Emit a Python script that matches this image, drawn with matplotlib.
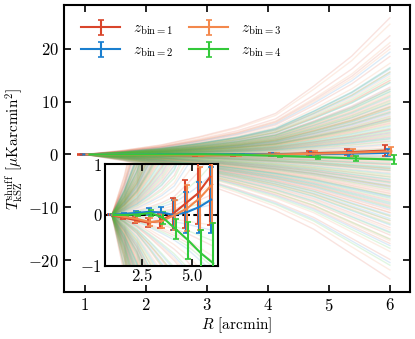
import numpy as np
import matplotlib
matplotlib.use("Agg")
import matplotlib.pyplot as plt

plt.rcParams['font.family'] = 'serif'
plt.rcParams['font.serif'] = ['cmr10', 'DejaVu Serif']
plt.rcParams['mathtext.fontset'] = 'cm'
plt.rcParams['axes.formatter.use_mathtext'] = True
plt.rcParams['font.size'] = 11

# radial bins [arcmin]
R = [1.0, 1.625, 2.25, 2.875, 3.5, 4.125, 4.75, 5.375, 6.0]
x_shift = [-0.075, -0.025, 0.025, 0.075]

labels = [r'$z_{\rm bin=1}$', r'$z_{\rm bin=2}$', r'$z_{\rm bin=3}$', r'$z_{\rm bin=4}$']
colors = ['#d9452b', '#1a7fcf', '#f3884c', '#33c93a']

# mean of shuffled profiles per z bin
mean_z1 = [0.0, -0.05, -0.10, -0.15, -0.12, 0.02, 0.22, 0.42, 0.75]
err_z1 = [0.01, 0.03, 0.05, 0.08, 0.14, 0.32, 0.47, 0.60, 0.95]
mean_z2 = [0.0, 0.02, 0.04, 0.06, 0.05, 0.0, 0.05, 0.15, 0.30]
err_z2 = [0.01, 0.02, 0.04, 0.07, 0.10, 0.30, 0.40, 0.50, 0.65]
mean_z3 = [0.0, -0.04, -0.08, -0.14, -0.12, 0.0, 0.13, 0.33, 0.60]
err_z3 = [0.01, 0.03, 0.05, 0.08, 0.14, 0.30, 0.45, 0.62, 0.75]
mean_z4 = [0.0, 0.0, 0.01, 0.04, -0.06, -0.28, -0.50, -0.75, -0.95]
err_z4 = [0.01, 0.02, 0.04, 0.06, 0.12, 0.20, 0.37, 0.45, 0.80]

means = [mean_z1, mean_z2, mean_z3, mean_z4]
errs = [err_z1, err_z2, err_z3, err_z4]

# individual shuffled realisations: value at R=6 and growth shape
shape_a = [0.0, 0.03, 0.07, 0.13, 0.20, 0.30, 0.50, 0.72, 1.0]
shape_b = [0.0, 0.05, 0.12, 0.22, 0.33, 0.45, 0.60, 0.80, 1.0]

ends_z1 = [25.8, -23.5, 14.0, -12.5, 8.2, -6.1, 3.5, -2.0, 11.2, -9.8, 6.4, -4.3,
           1.2, -0.6, 18.5, -16.8, 9.1, -7.4, 4.8, -3.1, 12.7, -11.0, 2.6, -1.5,
           7.3, -5.5, 20.5, -19.8, 0.4, -8.6, 5.9, -13.8, 10.3, -2.7, 15.6, -6.9,
           3.9, -10.5, 8.8, -0.9, 22.4, -4.9, 6.8, -15.2]
ends_z2 = [19.3, -17.2, 16.1, -9.4, 7.6, -5.2, 2.9, -1.8, 10.8, -12.1, 5.3, -3.6,
           0.8, -0.3, 13.5, -14.6, 8.5, -7.9, 4.1, -2.4, 11.9, -10.2, 1.9, -6.3,
           6.7, -4.7, 15.2, -20.4, 0.2, -8.1, 9.6, -11.4, 3.2, -1.1, 12.4, -13.3,
           4.6, -5.8, 7.9, -2.9, 16.4, -9.0]
ends_z3 = [24.6, -21.8, 12.3, -11.7, 9.4, -7.2, 4.2, -2.6, 13.9, -8.8, 5.7, -4.0,
           1.6, -0.8, 17.2, -15.9, 7.8, -6.5, 3.3, -1.9, 10.6, -12.9, 2.1, -3.4,
           8.9, -5.9, 19.9, -18.3, 0.6, -9.6, 6.1, -14.2, 11.5, -1.3, 14.8, -10.9,
           4.7, -7.7, 9.9, -0.2, 21.1, -5.1, 6.9, -16.3]
ends_z4 = [16.3, -20.9, 11.8, -13.1, 8.6, -6.6, 3.7, -2.3, 10.1, -9.2, 5.5, -4.6,
           1.0, -0.5, 14.4, -16.0, 7.1, -7.8, 4.4, -3.0, 12.2, -11.6, 2.4, -1.7,
           6.3, -5.3, 13.6, -17.7, 0.3, -8.3, 9.0, -12.4, 3.0, -1.0, 11.0, -14.8,
           5.0, -6.0, 8.0, -3.8, 15.5, -10.0, 6.6, -2.6, 9.7, -4.2]
ends = [ends_z1, ends_z2, ends_z3, ends_z4]

fig = plt.figure(figsize=(4.15, 3.39), dpi=100)
ax = fig.add_axes([0.154, 0.138, 0.834, 0.847])
axin = fig.add_axes([0.253, 0.216, 0.273, 0.300])

for a in [ax, axin]:
    for i in range(4):
        for k, e in enumerate(ends[i]):
            shape = shape_a if k % 2 == 0 else shape_b
            a.plot(R, e * np.array(shape), color=colors[i], alpha=0.15, lw=1.0, zorder=1)

axin.axhline(0, color='k', ls='--', lw=1.5, zorder=2)

for a in [ax, axin]:
    for i in range(4):
        a.errorbar(np.array(R) + x_shift[i], means[i], yerr=errs[i], color=colors[i],
                   lw=1.5, elinewidth=1.5, capsize=2, capthick=1.2, zorder=3,
                   label=labels[i])

ax.set_xlim(0.656, 6.33)
ax.set_ylim(-26.0, 28.2)
ax.set_xticks([1, 2, 3, 4, 5, 6])
ax.set_yticks([-20, -10, 0, 10, 20])
ax.set_xlabel(r'$R$ [arcmin]', labelpad=1)
ax.set_ylabel(r'$T_{\rm kSZ}^{\rm shuff}$ [$\mu$Karcmin$^2$]', labelpad=2)
ax.tick_params(direction='in', top=True, right=True, length=5, width=1.2, labelsize=12)
for s in ax.spines.values():
    s.set_linewidth(1.5)

axin.set_xlim(0.656, 6.33)
axin.set_ylim(-1, 1)
axin.set_xticks([2.5, 5.0])
axin.set_xticklabels(['2.5', '5.0'])
axin.set_yticks([-1, 0, 1])
axin.tick_params(direction='in', top=True, right=True, length=5, width=1.2, labelsize=12, pad=2)
for s in axin.spines.values():
    s.set_linewidth(1.5)

ax.legend(loc='upper left', ncol=2, frameon=False, fontsize=11, handlelength=2.6,
          handletextpad=0.8, columnspacing=1.0, borderaxespad=0.7, labelspacing=0.45)

fig.savefig('out.png', dpi=100)
